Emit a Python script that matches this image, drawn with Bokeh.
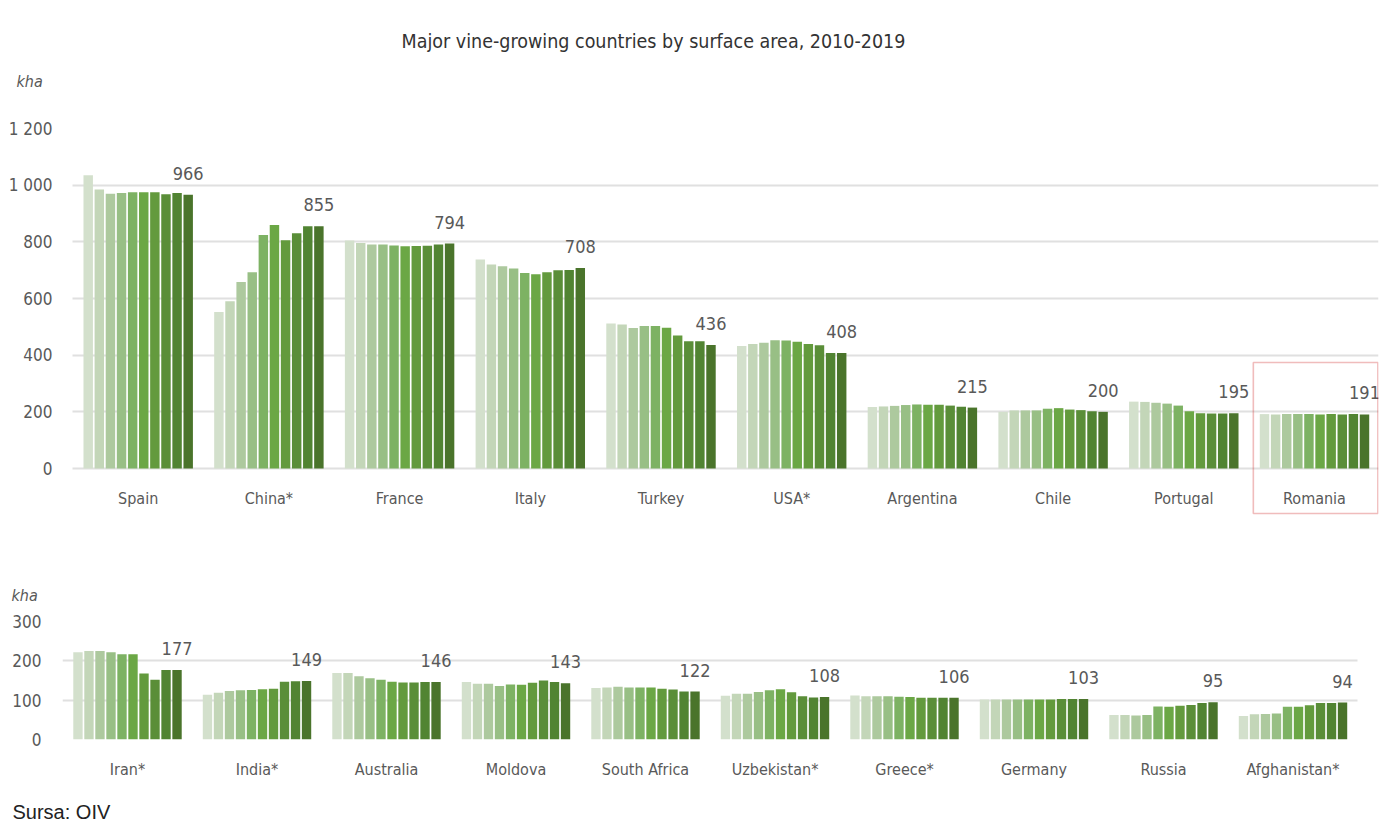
from bokeh.plotting import figure
from bokeh.models import ColumnDataSource, FixedTicker, Title, BoxAnnotation, Range1d, Grid
from bokeh.transform import dodge
from bokeh.layouts import column
from bokeh.embed import file_html
from bokeh.resources import INLINE
from bokeh.core.properties import value

# ---------------- data ----------------
years = [str(y) for y in range(2010, 2020)]

top_countries = ["Spain", "China*", "France", "Italy", "Turkey", "USA*",
                 "Argentina", "Chile", "Portugal", "Romania"]
spain = [1035, 985, 970, 972, 975, 975, 975, 968, 972, 966]
china = [552, 590, 658, 693, 824, 859, 806, 830, 855, 855]
france = [805, 796, 791, 791, 787, 784, 785, 786, 791, 794]
italy = [738, 720, 714, 706, 690, 686, 693, 700, 701, 708]
turkey = [512, 508, 496, 503, 503, 497, 469, 449, 449, 436]
usa = [432, 439, 444, 453, 452, 447, 439, 435, 408, 408]
argentina = [217, 219, 221, 224, 226, 225, 225, 222, 218, 215]
chile = [200, 205, 205, 205, 211, 213, 208, 206, 202, 200]
portugal = [236, 235, 232, 229, 222, 202, 195, 194, 194, 195]
romania = [192, 191, 192, 192, 192, 191, 192, 191, 192, 191]
top_series = [spain, china, france, italy, turkey, usa, argentina, chile, portugal, romania]

bottom_countries = ["Iran*", "India*", "Australia", "Moldova", "South Africa",
                    "Uzbekistan*", "Greece*", "Germany", "Russia", "Afghanistan*"]
iran = [222, 225, 225, 222, 217, 217, 168, 152, 177, 177]
india = [114, 119, 123, 125, 126, 128, 129, 147, 148, 149]
australia = [169, 169, 161, 156, 152, 147, 145, 145, 146, 146]
moldova = [146, 142, 142, 136, 140, 139, 144, 150, 146, 143]
south_africa = [131, 132, 134, 132, 132, 132, 129, 127, 122, 122]
uzbekistan = [111, 116, 116, 121, 125, 128, 120, 110, 107, 108]
greece = [112, 110, 110, 110, 109, 108, 106, 106, 106, 106]
germany = [102, 102, 102, 102, 102, 102, 102, 103, 103, 103]
russia = [62, 62, 61, 62, 84, 83, 86, 88, 93, 95]
afghanistan = [60, 64, 65, 66, 83, 83, 87, 93, 93, 94]
bottom_series = [iran, india, australia, moldova, south_africa, uzbekistan,
                 greece, germany, russia, afghanistan]

top_ticks = [0, 200, 400, 600, 800, 1000, 1200]
top_tick_labels = ["0", "200", "400", "600", "800", "1 000", "1 200"]
bottom_ticks = [0, 100, 200, 300]
bottom_tick_labels = ["0", "100", "200", "300"]

highlight_country = "Romania"

title_text = "Major vine-growing countries by surface area, 2010-2019"
unit_text = "kha"
source_text = "Sursa: OIV"

# ---------------- style / layout (pixels) ----------------
FONT = "'DejaVu Sans Condensed', 'DejaVu Sans', sans-serif"
COLORS = ["#d3e0cc", "#c3d6b8", "#adc99e", "#98bf85", "#7db263",
          "#6ba745", "#639a3d", "#5a8e38", "#518432", "#4a742b"]
GRAY = "#595959"
GRID = "#e0e0e0"
SLOT = 0.085
W = 1380
FRAME_L, FRAME_R = 62, 1378            # shared frame edges (page px)

# top chart geometry
TOP_H, TOP_FRAME_TOP, TOP_ZERO, TOP_FRAME_BOTTOM = 530, 128, 468, 515
TOP_CAT_PX, TOP_FIRST_CENTER = 130.7, 137.7
PPU = (TOP_ZERO - TOP_FRAME_TOP) / 1200.0

# bottom chart geometry
BOT_H, BOT_FRAME_TOP, BOT_FRAME_H = 294, 91, 118
BOT_CAT_PX, BOT_FIRST_CENTER = 129.5, 127


def x_range_for(cat_px, first_center):
    return Range1d(-(first_center - FRAME_L) / cat_px, (FRAME_R - first_center) / cat_px)


def style_axis(ax, size):
    ax.axis_line_color = None
    ax.major_tick_line_color = None
    ax.minor_tick_line_color = None
    ax.major_tick_out = 0
    ax.major_tick_in = 0
    ax.major_label_text_font = FONT
    ax.major_label_text_font_size = size
    ax.major_label_text_color = GRAY


def spacer(px):
    return Title(text=" ", text_font_size="1px", standoff=px, text_color="white")


def make_chart(countries, series, ticks, tick_labels, x_range, y_range, height,
               b_top, b_bottom, grid_x_end):
    data = {"idx": list(range(len(countries))), "country": countries}
    for i, y in enumerate(years):
        data[y] = [s[i] for s in series]
    data["last"] = [s[-1] for s in series]
    data["last_label"] = [str(s[-1]) for s in series]
    src = ColumnDataSource(data)

    p = figure(x_range=x_range, y_range=y_range,
               width=W, height=height, output_backend="svg",
               toolbar_location=None, title=None,
               min_border_left=FRAME_L, min_border_right=W - FRAME_R,
               min_border_top=b_top, min_border_bottom=b_bottom)
    p.outline_line_color = None
    p.background_fill_color = "white"
    p.border_fill_color = "white"

    for i, y in enumerate(years):
        p.vbar(x=dodge("idx", (i - 4.5) * SLOT), top=y,
               width=SLOT * 0.85, source=src, fill_color=COLORS[i], line_color=None)

    p.text(x=dodge("idx", 4.5 * SLOT), y="last",
           text="last_label", source=src, text_align="center",
           text_baseline="bottom", y_offset=-15,
           text_font=value(FONT), text_font_size="18px", text_color=GRAY)

    p.xgrid.grid_line_color = None
    p.ygrid.grid_line_color = GRID
    p.ygrid.grid_line_width = 2
    if "cross_bounds" in Grid.properties():
        p.ygrid.cross_bounds = (-0.5, grid_x_end)

    p.yaxis.ticker = FixedTicker(ticks=ticks)
    p.yaxis.major_label_overrides = {t: l for t, l in zip(ticks, tick_labels)}
    style_axis(p.yaxis, "17px")
    p.xaxis.ticker = FixedTicker(ticks=data["idx"])
    p.xaxis.major_label_overrides = {i: c for i, c in zip(data["idx"], countries)}
    style_axis(p.xaxis, "16px")
    p.xaxis.major_label_standoff = 20
    return p, src


# ---------------- top chart ----------------
top_xr = x_range_for(TOP_CAT_PX, TOP_FIRST_CENTER)
p1, src1 = make_chart(top_countries, top_series, top_ticks, top_tick_labels,
                      top_xr, Range1d(-(TOP_FRAME_BOTTOM - TOP_ZERO) / PPU, 1200),
                      TOP_H, TOP_FRAME_TOP, TOP_H - TOP_FRAME_BOTTOM, top_xr.end)
p1.yaxis.major_label_standoff = 10
p1.xaxis.visible = False
p1.text(x="idx", y=0, text="country", source=src1, y_offset=30,
        text_align="center", text_baseline="middle",
        text_font=value(FONT), text_font_size="16px", text_color=GRAY)
p1.add_layout(spacer(35), "above")
p1.add_layout(Title(text=unit_text, align="left", offset=-46, standoff=0,
                    text_font=FONT, text_font_size="16px",
                    text_font_style="italic", text_color=GRAY), "above")
p1.add_layout(Title(text=title_text, align="left", offset=339, standoff=34,
                    text_font=FONT, text_font_size="19.5px",
                    text_font_style="normal", text_color="#333333"), "above")

hi = top_countries.index(highlight_country)
p1.add_layout(BoxAnnotation(left=hi - 0.468, right=hi + 0.485,
                            bottom=-45 / PPU, top=106 / PPU,
                            fill_color=None, fill_alpha=0,
                            line_color="#cc2222", line_width=1.6))

# ---------------- bottom chart ----------------
bot_xr = x_range_for(BOT_CAT_PX, BOT_FIRST_CENTER)
p2, src2 = make_chart(bottom_countries, bottom_series, bottom_ticks, bottom_tick_labels,
                      bot_xr, Range1d(0, 300), BOT_H, BOT_FRAME_TOP,
                      BOT_H - BOT_FRAME_TOP - BOT_FRAME_H, 9.5)
p2.yaxis.major_label_standoff = 21
p2.add_layout(Title(text=unit_text, align="left", offset=-51, standoff=33,
                    text_font=FONT, text_font_size="16px",
                    text_font_style="italic", text_color=GRAY), "above")
p2.add_layout(spacer(14), "below")
p2.add_layout(Title(text=source_text, align="left", offset=-50, standoff=0,
                    text_font="'Liberation Sans', Arial, sans-serif",
                    text_font_size="20px", text_font_style="normal",
                    text_color="#222222"), "below")

layout = column(p1, p2, spacing=0)
open("out.html", "w").write(file_html(layout, INLINE))
